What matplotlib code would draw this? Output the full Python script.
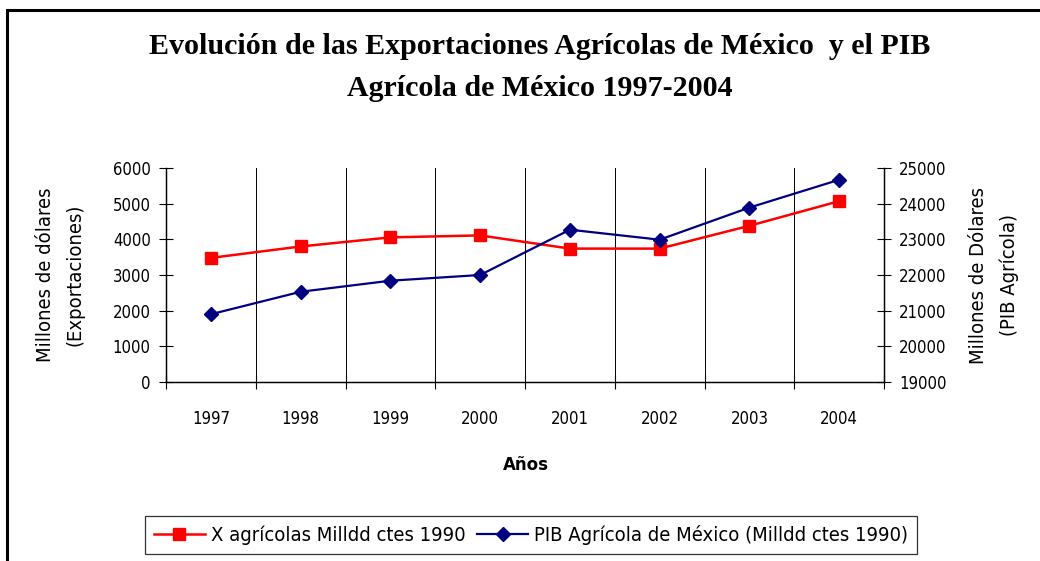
import matplotlib
matplotlib.use("Agg")
import matplotlib.pyplot as plt
from matplotlib.patches import Rectangle
from matplotlib.lines import Line2D
from matplotlib import font_manager

NARROW = ["DejaVu Sans"]
SERIF = ["Liberation Serif", "DejaVu Serif"]
STRETCH = "condensed"

years = ["1997", "1998", "1999", "2000", "2001", "2002", "2003", "2004"]
exportaciones = [3480, 3800, 4055, 4110, 3740, 3740, 4380, 5070]
pib_agricola = [20900, 21530, 21840, 22000, 23270, 22990, 23890, 24670]

left_ticks = [0, 1000, 2000, 3000, 4000, 5000, 6000]
right_ticks = [19000, 20000, 21000, 22000, 23000, 24000, 25000]

RED = "#FF0000"
NAVY = "#000080"

fig = plt.figure(figsize=(10.4, 5.61), dpi=100)

# outer chart border (runs off the right and bottom edges like the source)
fig.patches.append(Rectangle((7 / 1040, -0.05), 1.1, 1 - 10 / 561 + 0.05,
                             transform=fig.transFigure, fill=False,
                             edgecolor="black", linewidth=2.2))

ax = fig.add_axes([166 / 1040, 1 - 382 / 561, (884 - 166) / 1040, (382 - 168) / 561])
ax2 = ax.twinx()

x = list(range(len(years)))
ax.plot(x, exportaciones, color=RED, linewidth=1.8, marker="s", markersize=8,
        markeredgecolor=RED, zorder=5, clip_on=False)
ax2.plot(x, pib_agricola, color=NAVY, linewidth=1.6, marker="D", markersize=7.5,
         markeredgecolor=NAVY, zorder=5, clip_on=False)

ax.set_xlim(-0.5, len(years) - 0.5)
ax.set_ylim(0, 6000)
ax2.set_ylim(19000, 25000)

tick_font = dict(family=NARROW, fontsize=12, stretch=STRETCH)

ax.set_xticks(x)
ax.set_xticklabels(years, **tick_font)
ax.set_xticks([i - 0.5 for i in range(len(years) + 1)], minor=True)
ax.tick_params(axis="x", which="major", length=0, pad=20)
ax.tick_params(axis="x", which="minor", direction="inout", length=10, width=0.8)
for b in range(1, len(years)):
    ax.axvline(b - 0.5, color="black", linewidth=0.7, zorder=1)

ax.set_yticks(left_ticks)
ax.set_yticklabels([str(v) for v in left_ticks], **tick_font)
ax.tick_params(axis="y", direction="inout", length=10, width=0.8, pad=6)
ax2.set_yticks(right_ticks)
ax2.set_yticklabels([str(v) for v in right_ticks], **tick_font)
ax2.tick_params(axis="y", direction="inout", length=10, width=0.8, pad=6)

for a in (ax, ax2):
    a.spines["top"].set_visible(False)
    for s in ("left", "right", "bottom"):
        a.spines[s].set_linewidth(0.9)

ax.set_ylabel("Millones de dólares\n(Exportaciones)", family=NARROW, fontsize=14.5,
              stretch=STRETCH, linespacing=1.75, labelpad=20)
ax2.set_ylabel("Millones de Dólares\n(PIB Agrícola)", family=NARROW, fontsize=14.5,
               stretch=STRETCH, linespacing=1.75, rotation=90, labelpad=16)

fig.text(526 / 1040, 1 - 465 / 561, "Años", ha="center", va="center",
         fontsize=12, fontweight="bold", family=["DejaVu Sans"])

fig.text(540 / 1040, 1 - 47 / 561,
         "Evolución de las Exportaciones Agrícolas de México  y el PIB",
         ha="center", va="center", fontsize=21.6, fontweight="bold", family=SERIF)
fig.text(540 / 1040, 1 - 88 / 561, "Agrícola de México 1997-2004",
         ha="center", va="center", fontsize=21.6, fontweight="bold", family=SERIF)

handles = [
    Line2D([], [], color=RED, linewidth=1.8, marker="s", markersize=8),
    Line2D([], [], color=NAVY, linewidth=1.6, marker="D", markersize=7.5),
]
labels = ["X agrícolas Milldd ctes 1990", "PIB Agrícola de México (Milldd ctes 1990)"]
leg = fig.legend(handles, labels, loc="center", bbox_to_anchor=(531 / 1040, 1 - 535 / 561),
                 ncol=2, frameon=True, fancybox=False, edgecolor="black",
                 prop=font_manager.FontProperties(family=NARROW, size=14.5, stretch=STRETCH),
                 handlelength=2.5, handletextpad=0.3, columnspacing=0.6, borderpad=0.45)
leg.get_frame().set_linewidth(0.9)

fig.savefig("out.png", dpi=100)
